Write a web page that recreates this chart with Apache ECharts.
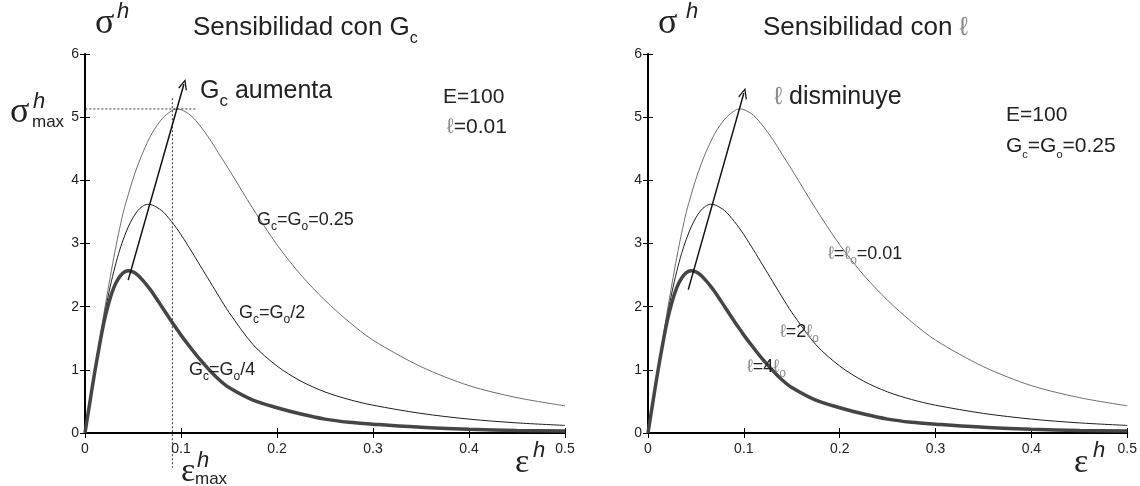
<!DOCTYPE html>
<html>
<head>
<meta charset="utf-8">
<script src="https://cdn.jsdelivr.net/npm/echarts@6/dist/echarts.min.js"></script>
<style>
  html, body { margin: 0; padding: 0; background: #fff; }
  #chart { width: 1140px; height: 486px; }
</style>
</head>
<body>
<div id="chart"></div>
<script>
// strain (x axis), shared by both panels
var strain = [0, 0.005, 0.01, 0.015, 0.02, 0.025, 0.03, 0.035, 0.04, 0.045, 0.05, 0.055,
  0.06, 0.065, 0.07, 0.08, 0.09, 0.095, 0.1, 0.11, 0.12, 0.13, 0.14, 0.15, 0.175, 0.2,
  0.225, 0.25, 0.275, 0.3, 0.35, 0.4, 0.45, 0.5];
// Gc = Go = 0.25  (right panel: l = lo = 0.01)
var sigmaFull = [0, 0.49, 0.98, 1.45, 1.92, 2.36, 2.78, 3.16, 3.5, 3.77, 4.02, 4.24,
  4.43, 4.6, 4.75, 4.97, 5.1, 5.13, 5.12, 5.03, 4.86, 4.65, 4.41, 4.17, 3.55, 2.98,
  2.5, 2.1, 1.76, 1.47, 1.05, 0.75, 0.56, 0.43];
// Gc = Go/2  (right panel: l = 2 lo)
var sigmaHalf = [0, 0.49, 0.97, 1.42, 1.85, 2.23, 2.56, 2.84, 3.07, 3.26, 3.41, 3.52,
  3.59, 3.62, 3.61, 3.52, 3.35, 3.25, 3.14, 2.9, 2.65, 2.4, 2.15, 1.91, 1.4, 1.06,
  0.82, 0.65, 0.53, 0.44, 0.31, 0.22, 0.16, 0.12];
// Gc = Go/4  (right panel: l = 4 lo)
var sigmaQuarter = [0, 0.48, 0.95, 1.38, 1.77, 2.07, 2.3, 2.45, 2.54, 2.57, 2.55, 2.5,
  2.42, 2.33, 2.23, 2.0, 1.77, 1.66, 1.55, 1.35, 1.16, 0.99, 0.84, 0.72, 0.52, 0.4,
  0.3, 0.22, 0.17, 0.14, 0.09, 0.06, 0.04, 0.03];

// arrows and the peak marker lines
var arrowLeft = [[0.045, 2.42], [0.103, 5.52]];
var arrowRight = [[0.042, 2.27], [0.1, 5.38]];
var peakHLine = [[-0.008, 5.13], [0.117, 5.13]];
var peakVLine = [[0.091, 5.3], [0.091, -0.55]];

var F = '"Liberation Sans", Arial, sans-serif';
var SERIF = '"Liberation Serif", "DejaVu Serif", serif';
var GREY_L = '#8c8c8c';

var chart = echarts.init(document.getElementById('chart'));

function pairs(ys) {
  return strain.map(function (x, i) { return [x, ys[i]]; });
}

function curve(name, ys, g, color, width) {
  return {
    name: name,
    type: 'line',
    xAxisIndex: g * 2,
    yAxisIndex: g * 2,
    data: pairs(ys),
    showSymbol: false,
    smooth: 0.3,
    silent: true,
    lineStyle: { color: color, width: width }
  };
}

var arrowHead = 'path://M0,0 L6,10 L4.6,10.8 L0,3 L-4.6,10.8 L-6,10 Z';

function arrow(pts, g) {
  return {
    type: 'line',
    xAxisIndex: g * 2,
    yAxisIndex: g * 2,
    data: pts,
    showSymbol: false,
    silent: true,
    lineStyle: { opacity: 0 },
    markLine: {
      silent: true,
      symbol: ['none', arrowHead],
      symbolSize: [9, 11],
      label: { show: false },
      lineStyle: { color: '#111', width: 1.5, type: 'solid' },
      data: [[{ coord: pts[0] }, { coord: pts[1] }]]
    }
  };
}

function dotted(pts) {
  return {
    type: 'line',
    xAxisIndex: 0,
    yAxisIndex: 0,
    data: pts,
    showSymbol: false,
    silent: true,
    clip: false,
    lineStyle: { color: '#333', width: 1, type: [2, 2] }
  };
}

function xAxes(g) {
  return [{
    type: 'value', gridIndex: g, min: 0, max: 0.5, interval: 0.1, position: 'bottom',
    axisLine: { lineStyle: { color: '#000', width: 2 } },
    axisTick: { inside: true, length: 5, lineStyle: { color: '#000' } },
    axisLabel: { color: '#222', fontSize: 14, fontFamily: F, margin: 9 },
    splitLine: { show: false }
  }, {
    type: 'value', gridIndex: g, min: 0, max: 0.5, interval: 0.1, position: 'top',
    axisLine: { lineStyle: { color: '#000', width: 1 } },
    axisTick: { inside: true, length: 5, lineStyle: { color: '#000' } },
    axisLabel: { show: false },
    splitLine: { show: false }
  }];
}

function yAxes(g) {
  return [{
    type: 'value', gridIndex: g, min: 0, max: 6, interval: 1, position: 'left',
    axisLine: { show: true, lineStyle: { color: '#000', width: 2 } },
    axisTick: { show: true, inside: true, length: 5, lineStyle: { color: '#000' } },
    axisLabel: { color: '#222', fontSize: 14, fontFamily: F, margin: 6 },
    splitLine: { show: false }
  }, {
    type: 'value', gridIndex: g, min: 0, max: 6, interval: 1, position: 'right',
    axisLine: { show: true, lineStyle: { color: '#000', width: 1 } },
    axisTick: { show: true, inside: true, length: 5, lineStyle: { color: '#000' } },
    axisLabel: { show: false },
    splitLine: { show: false }
  }];
}

// rich text styles: S main size, s subscript size, L line height
function rs(S, s, L) {
  return {
    m: { fontSize: S, fontFamily: F, lineHeight: L, fill: '#222' },
    s: { fontSize: s, fontFamily: F, lineHeight: s, verticalAlign: 'bottom', fill: '#222' },
    l: { fontSize: S, fontFamily: F, lineHeight: L, fill: GREY_L },
    ls: { fontSize: s, fontFamily: F, lineHeight: s, verticalAlign: 'bottom', fill: GREY_L }
  };
}
var R26 = rs(26, 16, 37);
var R25 = rs(25, 17, 37);
var R21 = rs(21, 11, 28);
var R18 = rs(18, 12, 26);

function label(x, y, text, rich) {
  return {
    type: 'text', x: x, y: y, silent: true, z: 100,
    style: { text: text, rich: rich, align: 'left', verticalAlign: 'middle', fill: '#222', font: '18px ' + F }
  };
}

function plain(x, y, text, font) {
  return {
    type: 'text', x: x, y: y, silent: true, z: 100,
    style: { text: text, align: 'left', verticalAlign: 'middle', fill: '#222', font: font }
  };
}

var graphics = [
  // left panel
  plain(95, 24, 'σ', '36px ' + SERIF),
  plain(117, 12, 'h', 'italic 22px ' + F),
  label(193, 28, '{m|Sensibilidad con G}{s|c}', R26),
  label(200, 91, '{m|G}{s|c}{m| aumenta}', R25),
  label(443, 97, '{m|E=100}', R21),
  label(447, 127, '{l|ℓ}{m|=0.01}', R21),
  label(257, 220, '{m|G}{s|c}{m|=G}{s|o}{m|=0.25}', R18),
  label(239, 313, '{m|G}{s|c}{m|=G}{s|o}{m|/2}', R18),
  label(189, 370, '{m|G}{s|c}{m|=G}{s|o}{m|/4}', R18),
  plain(10, 113, 'σ', '36px ' + SERIF),
  plain(33, 102, 'h', 'italic 22px ' + F),
  plain(32, 122, 'max', '17px ' + F),
  plain(181, 472, 'ε', '34px ' + SERIF),
  plain(197, 461, 'h', 'italic 22px ' + F),
  plain(195, 479, 'max', '17px ' + F),
  plain(515, 463, 'ε', '34px ' + SERIF),
  plain(533, 451, 'h', 'italic 22px ' + F),
  // right panel
  plain(658, 24, 'σ', '36px ' + SERIF),
  plain(686, 12, 'h', 'italic 22px ' + F),
  label(763, 28, '{m|Sensibilidad con }{l|ℓ}', R26),
  label(774, 97, '{l|ℓ}{m| disminuye}', R25),
  label(1006, 115, '{m|E=100}', R21),
  label(1006, 146, '{m|G}{s|c}{m|=G}{s|o}{m|=0.25}', R21),
  label(828, 254, '{l|ℓ}{m|=}{l|ℓ}{ls|o}{m|=0.01}', R18),
  label(780, 332, '{l|ℓ}{m|=2}{l|ℓ}{ls|o}', R18),
  label(747, 367, '{l|ℓ}{m|=4}{l|ℓ}{ls|o}', R18),
  plain(1074, 463, 'ε', '34px ' + SERIF),
  plain(1093, 451, 'h', 'italic 22px ' + F)
];

var option = {
  backgroundColor: '#fff',
  animation: false,
  grid: [
    { left: 85, top: 54, width: 480, height: 379 },
    { left: 648, top: 54, width: 480, height: 379 }
  ],
  xAxis: xAxes(0).concat(xAxes(1)),
  yAxis: yAxes(0).concat(yAxes(1)),
  series: [
    curve('Gc=Go=0.25', sigmaFull, 0, '#6e6e6e', 1),
    curve('Gc=Go/2', sigmaHalf, 0, '#1e1e1e', 1),
    curve('Gc=Go/4', sigmaQuarter, 0, '#454545', 3.5),
    curve('l=lo=0.01', sigmaFull, 1, '#6e6e6e', 1),
    curve('l=2lo', sigmaHalf, 1, '#1e1e1e', 1),
    curve('l=4lo', sigmaQuarter, 1, '#454545', 3.5),
    dotted(peakHLine),
    dotted(peakVLine),
    arrow(arrowLeft, 0),
    arrow(arrowRight, 1)
  ],
  graphic: graphics
};

chart.setOption(option);
</script>
</body>
</html>
